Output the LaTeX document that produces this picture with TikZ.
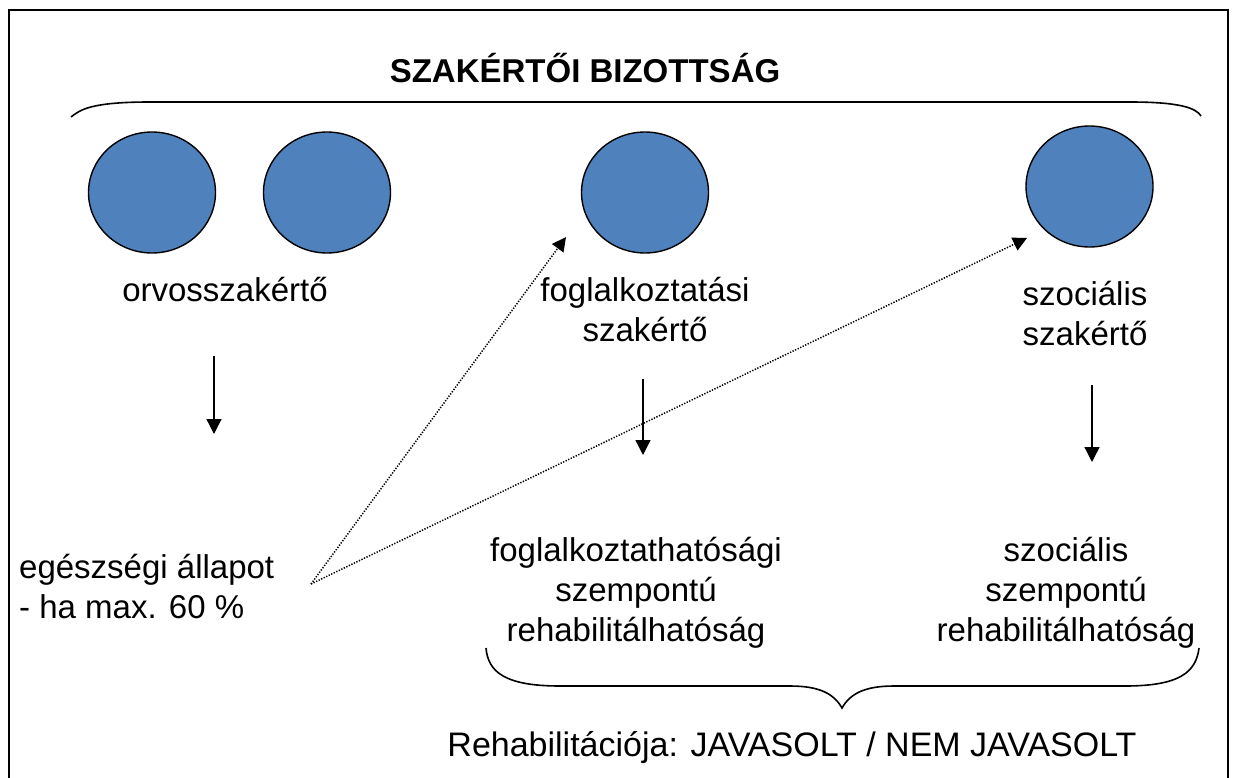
\documentclass[tikz,border=0pt]{standalone}
\usepackage{fontspec}
\setmainfont{Liberation Sans}
\usetikzlibrary{arrows.meta,shapes.geometric}
\definecolor{disc}{HTML}{4F81BD}
\tikzset{
  disc/.style={ellipse,draw=black,line width=1.4pt,fill=disc,minimum width=127pt,minimum height=121pt,inner sep=0pt},
  lbl/.style={align=center,font=\fontsize{33}{40}\selectfont,inner sep=0pt},
  solidarrow/.style={line width=1.3pt,-{Triangle[width=15pt,length=15pt]}},
  dotarrow/.style={line width=1.5pt,dash pattern=on 1.3pt off 1.5pt,-{Triangle[width=14pt,length=14pt]}},
  bracepath/.style={line width=1.6pt}
}
\begin{document}
\begin{tikzpicture}[x=1pt,y=-1pt]
\useasboundingbox (0,0) rectangle (1238,778);
% frame
\draw[line width=2.5pt] (9,800) -- (9,10) -- (1228,10) -- (1228,800);
% title
\node[lbl,font=\fontsize{33}{40}\selectfont\bfseries] (title) at (585,68) {SZAKÉRTŐI BIZOTTSÁG};
% top brace
\draw[bracepath] (71,117) .. controls (80,110) and (90,102) .. (150,102) -- (1130,102) .. controls (1180,102) and (1196,108) .. (1201,116);
% discs
\node[disc] (c1) at (152,192.5) {};
\node[disc] (c2) at (327,192.5) {};
\node[disc] (c3) at (645,192.5) {};
\node[disc] (c4) at (1089.5,186.5) {};
% labels
\node[lbl] (orvos) at (225,290) {orvosszakértő};
\node[lbl] (fogl) at (645,310) {foglalkoztatási\\szakértő};
\node[lbl] (szoc) at (1085,314) {szociális\\szakértő};
\node[lbl,align=left,anchor=west] (eg) at (19,587) {egészségi állapot\\- ha max. 60 \%};
\node[lbl] (foglr) at (636,593) {foglalkoztathatósági\\szempontú\\rehabilitálhatóság};
\node[lbl] (szocr) at (1066,593) {szociális\\szempontú\\rehabilitálhatóság};
\node[lbl,font=\fontsize{34}{40}\selectfont] (rehab) at (792,748) {Rehabilitációja: JAVASOLT / NEM JAVASOLT};
% solid arrows
\coordinate (a1s) at (214,356);
\coordinate (a1e) at (214,434);
\coordinate (a2s) at (643,379);
\coordinate (a2e) at (643,455);
\coordinate (a3s) at (1092,385);
\coordinate (a3e) at (1092,462);
\draw[solidarrow] (a1s) -- (a1e);
\draw[solidarrow] (a2s) -- (a2e);
\draw[solidarrow] (a3s) -- (a3e);
% dotted arrows
\coordinate (ds) at (311,584);
\coordinate (d1) at (566,237);
\coordinate (d2) at (1027,238);
\draw[dotarrow] (ds) -- (d1);
\draw[dotarrow] (ds) -- (d2);
% bottom brace
\draw[bracepath] (486,648) .. controls (488,672) and (505,686) .. (560,686) -- (790,686) .. controls (820,686) and (834,694) .. (842,708)
  .. controls (850,694) and (864,686) .. (894,686) -- (1125,686) .. controls (1180,686) and (1196,672) .. (1199,648);
\end{tikzpicture}
\end{document}
